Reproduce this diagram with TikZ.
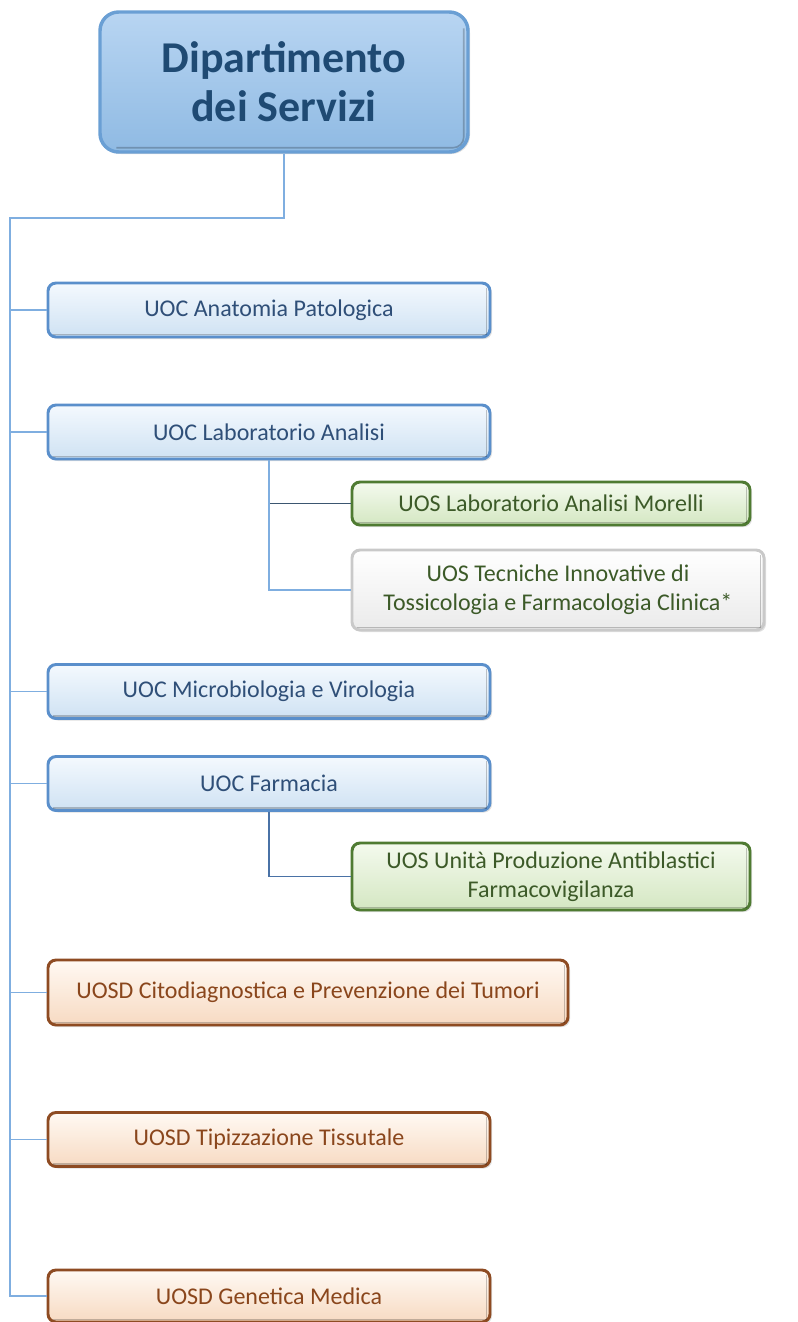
\documentclass[tikz,border=0pt]{standalone}
\usepackage{fontspec}
\setmainfont{Carlito}
\usetikzlibrary{shadows}
\definecolor{uocborder}{HTML}{5A8FCB}
\definecolor{uoctext}{HTML}{2F4F78}
\definecolor{uoctop}{HTML}{F4F9FE}
\definecolor{uocbot}{HTML}{CFE2F3}
\definecolor{titletext}{HTML}{1F4A73}
\definecolor{titletop}{HTML}{B8D5F2}
\definecolor{titlebot}{HTML}{8FBAE3}
\definecolor{titleborder}{HTML}{6A9FD4}
\definecolor{grnborder}{HTML}{4F7B32}
\definecolor{grntext}{HTML}{3C5A28}
\definecolor{grntop}{HTML}{F4FAEE}
\definecolor{grnbot}{HTML}{D4E7C2}
\definecolor{orgborder}{HTML}{8E4B22}
\definecolor{orgtext}{HTML}{8A461C}
\definecolor{orgtop}{HTML}{FFF9F3}
\definecolor{orgbot}{HTML}{F7DAC2}
\definecolor{tecborder}{HTML}{C9C9C9}
\definecolor{linelight}{HTML}{7FAEE0}
\definecolor{linedark}{HTML}{3B5670}
\definecolor{linemid}{HTML}{4A72A6}
\begin{document}
\begin{tikzpicture}[x=0.75pt,y=-0.75pt,
  box/.style={rectangle, rounded corners=6pt, line width=2.2pt, align=center,
    inner sep=0pt, font=\fontsize{18}{22}\selectfont,
    drop shadow={opacity=0.25, shadow xshift=1.5pt, shadow yshift=-1.5pt}},
  uoc/.style={box, draw=uocborder, top color=uoctop, bottom color=uocbot, text=uoctext,
    minimum width=331.5pt, minimum height=40.5pt},
  uos/.style={box, draw=grnborder, top color=grntop, bottom color=grnbot, text=grntext,
    minimum width=298.5pt},
  uosd/.style={box, draw=orgborder, top color=orgtop, bottom color=orgbot, text=orgtext,
    minimum width=331.5pt, minimum height=40.5pt},
  bevel/.style={draw=black, opacity=0.22, line width=1.2pt},
  conn/.style={line width=1.1pt, draw=linelight}
]
\useasboundingbox (0,0) rectangle (797,1322);

\node[box, draw=titleborder, line width=2.6pt, top color=titletop, bottom color=titlebot,
  text=titletext, rounded corners=14pt, minimum width=276pt, minimum height=105pt,
  font=\fontsize{33}{37}\selectfont\bfseries] (top) at (284,82) {Dipartimento\\dei Servizi};

\node[uoc] (anat) at (269,310) {UOC Anatomia Patologica};
\node[uoc] (lab) at (269,432) {UOC Laboratorio Analisi};
\node[uos, minimum height=32.25pt] (mor) at (551,503.5) {UOS Laboratorio Analisi Morelli};
\node[box, draw=tecborder, top color=white, bottom color=white!92!black, text=grntext,
  minimum width=309pt, minimum height=60pt] (tec) at (558,590)
  {UOS Tecniche Innovative di\\Tossicologia e Farmacologia Clinica*};
\node[uoc] (micro) at (269,691.5) {UOC Microbiologia e Virologia};
\node[uoc] (farm) at (269,783.5) {UOC Farmacia};
\node[uos, minimum height=50.25pt] (unita) at (551,876.5) {UOS Unità Produzione Antiblastici\\Farmacovigilanza};
\node[uosd, minimum width=390pt, minimum height=48.75pt] (cito) at (308,992.5) {UOSD Citodiagnostica e Prevenzione dei Tumori};
\node[uosd] (tip) at (269,1139.5) {UOSD Tipizzazione Tissutale};
\node[uosd, minimum height=39pt] (gen) at (269,1296) {UOSD Genetica Medica};

% inner bevel on right and bottom edges
\draw[bevel, rounded corners=8pt] ([shift={(-6,18)}]top.north east) -- ([shift={(-6,-6)}]top.south east) -- ([shift={(18,-6)}]top.south west);
\foreach \n in {anat,lab,mor,tec,micro,farm,unita,cito,tip,gen}
  \draw[bevel] ([shift={(-5,6)}]\n.north east) -- ([shift={(-5,-4)}]\n.south east) -- ([shift={(6,-4)}]\n.south west);

\coordinate (trunk) at (10,218);
\draw[conn] (top.south) |- (trunk) |- (gen.west);
\foreach \n in {anat,lab,micro,farm,cito,tip}
  \draw[conn] (trunk |- \n.west) -- (\n.west);
\draw[conn, draw=linedark] (lab.south) |- (mor.west);
\draw[conn] (lab.south) |- (tec.west);
\draw[conn, draw=linemid] (farm.south) |- (unita.west);
\end{tikzpicture}
\end{document}
